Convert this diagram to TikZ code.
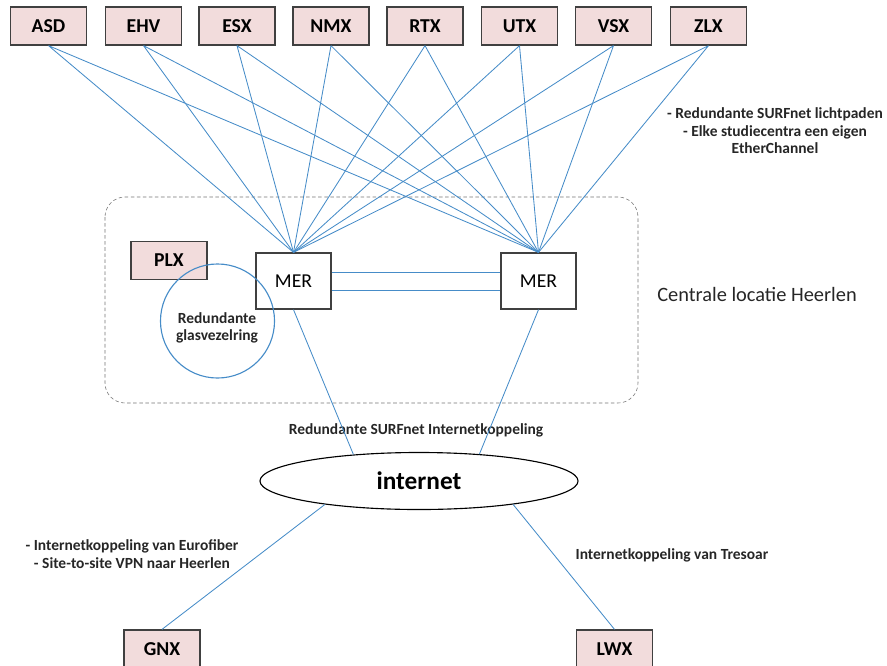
\documentclass[tikz,border=0pt]{standalone}
\usepackage{fontspec}
\setmainfont{Carlito}
\usetikzlibrary{calc}
\usetikzlibrary{shapes}

\definecolor{lijnblauw}{RGB}{70,140,200}
\definecolor{roze}{RGB}{242,220,220}
\definecolor{rand}{RGB}{64,64,64}

\tikzset{
	locatie/.style={rectangle, draw=rand, fill=roze, line width=0.9pt, minimum width=1.9cm, minimum height=0.95cm, inner sep=0pt, font=\fontsize{14}{16}\selectfont\bfseries},
	mer/.style={rectangle, draw=rand, fill=white, line width=0.9pt, minimum width=1.875cm, minimum height=1.4cm, inner sep=0pt, font=\fontsize{14}{16}\selectfont},
	lijn/.style={draw=lijnblauw, line width=0.6pt},
	uitleg/.style={align=center, inner sep=0pt, font=\fontsize{11}{12.5}\selectfont\bfseries, text=black!85},
}

\begin{document}
\begin{tikzpicture}[x=0.025cm, y=-0.025cm]

		\useasboundingbox (0,0) rectangle (887,665);

		\def \ytop{26};
		\def \ymer{281};

		\draw[draw=gray!90!black, dash pattern=on 2.5pt off 1.8pt, rounded corners=0.5cm] (105,197) rectangle (638,403);

		\node[locatie] (asd) at (48.5,\ytop) {ASD};
		\node[locatie] (ehv) at (143.5,\ytop) {EHV};
		\node[locatie] (esx) at (237,\ytop) {ESX};
		\node[locatie] (nmx) at (331,\ytop) {NMX};
		\node[locatie] (rtx) at (425,\ytop) {RTX};
		\node[locatie] (utx) at (519.5,\ytop) {UTX};
		\node[locatie] (vsx) at (613.5,\ytop) {VSX};
		\node[locatie] (zlx) at (708.5,\ytop) {ZLX};

		\node[mer] (mer1) at (293.5,\ymer) {MER};
		\node[mer] (mer2) at (538.5,\ymer) {MER};
		\node[locatie] (plx) at (169,260.5) {PLX};

		\draw[lijn] (asd.south) -- (mer1.north) (asd.south) -- (mer2.north);
		\draw[lijn] (ehv.south) -- (mer1.north) (ehv.south) -- (mer2.north);
		\draw[lijn] (esx.south) -- (mer1.north) (esx.south) -- (mer2.north);
		\draw[lijn] (nmx.south) -- (mer1.north) (nmx.south) -- (mer2.north);
		\draw[lijn] (rtx.south) -- (mer1.north) (rtx.south) -- (mer2.north);
		\draw[lijn] (utx.south) -- (mer1.north) (utx.south) -- (mer2.north);
		\draw[lijn] (vsx.south) -- (mer1.north) (vsx.south) -- (mer2.north);
		\draw[lijn] (zlx.south) -- (mer1.north) (zlx.south) -- (mer2.north);

		\draw[lijn] ([yshift=0.225cm]mer1.east) -- ([yshift=0.225cm]mer2.west);
		\draw[lijn] ([yshift=-0.225cm]mer1.east) -- ([yshift=-0.225cm]mer2.west);

		\node[circle, draw=lijnblauw, line width=0.8pt, minimum size=2.85cm, inner sep=0pt] (ring) at (217.5,321) {};
		\node[uitleg] (ringtekst) at (217,328) {Redundante\\glasvezelring};

		\node[font=\fontsize{14.5}{16}\selectfont, text=black!85] (heerlen) at (757,294) {Centrale locatie Heerlen};
		\node[uitleg] (lichtpaden) at (775,131) {- Redundante SURFnet lichtpaden\\- Elke studiecentra een eigen\\EtherChannel};

		\node[ellipse, draw=black, line width=0.8pt, minimum width=7.95cm, minimum height=1.425cm, inner sep=0pt, font=\fontsize{18}{20}\selectfont\bfseries] (net) at (419,481) {internet};
		\node[uitleg] (surfnet) at (416,430) {Redundante SURFnet Internetkoppeling};

		\draw[lijn] (mer1.south) -- (net.158);
		\draw[lijn] (mer2.south) -- (net.24);

		\node[locatie] (gnx) at (162,649) {GNX};
		\node[locatie] (lwx) at (614.5,649) {LWX};

		\draw[lijn] (net.194) -- (gnx.north);
		\draw[lijn] (net.346) -- (lwx.north);

		\node[uitleg] (eurofiber) at (132,554) {- Internetkoppeling van Eurofiber\\- Site-to-site VPN naar Heerlen};
		\node[uitleg] (tresoar) at (672,555) {Internetkoppeling van Tresoar};

	\end{tikzpicture}
\end{document}
